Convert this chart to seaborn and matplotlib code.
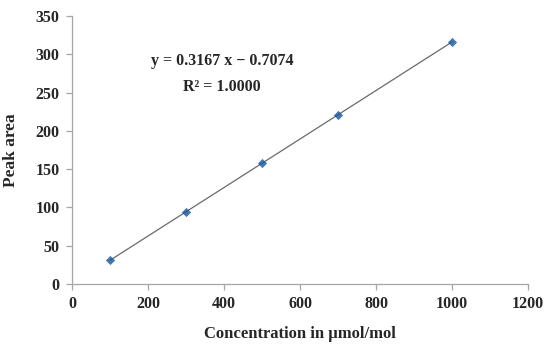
import numpy as np
import pandas as pd
import matplotlib
matplotlib.use("Agg")
import matplotlib.pyplot as plt
import seaborn as sns

# Calibration data
concentration = [100, 300, 500, 700, 1000]
peak_area = [31, 94, 158, 221, 316]
equation_text = "y = 0.3167 x \u2212 0.7074"
r2_text = "R\u00b2 = 1.0000"

df = pd.DataFrame({"Concentration": concentration, "Peak area": peak_area})

sns.set_style("white")
plt.rcParams['font.family'] = ['Liberation Serif', 'DejaVu Serif']
plt.rcParams['font.weight'] = 'bold'

fig = plt.figure(figsize=(5.5, 3.48), dpi=100)
ax = fig.add_axes([0.131, 0.184, 0.829, 0.770])

# Trendline over data range
sns.regplot(data=df, x="Concentration", y="Peak area", ci=None, truncate=True, marker="D",
            scatter_kws={"s": 22, "color": "#14569F", "zorder": 3, "linewidths": 0},
            line_kws={"color": "#6A6A6A", "linewidth": 0.9}, ax=ax)

ax.set_xlim(0, 1200)
ax.set_ylim(0, 350)
ax.set_xticks(range(0, 1201, 200))
ax.set_yticks(range(0, 351, 50))

for side in ["top", "right"]:
    ax.spines[side].set_visible(False)
for side in ["left", "bottom"]:
    ax.spines[side].set_color("#A6A6A6")
    ax.spines[side].set_linewidth(0.9)

ax.tick_params(axis="both", direction="out", length=4, width=0.9, color="#A6A6A6",
               labelsize=11.5, pad=5, bottom=True, left=True)
for lbl in ax.get_xticklabels() + ax.get_yticklabels():
    lbl.set_fontweight("bold")

ax.set_xlabel("Concentration in \u00b5mol/mol", fontsize=12, fontweight="bold", labelpad=10)
ax.set_ylabel("Peak area", fontsize=12.5, fontweight="bold", labelpad=12)

ax.text(395, 291, equation_text, ha="center", va="center", fontsize=11.5, fontweight="bold")
ax.text(393, 257, r2_text, ha="center", va="center", fontsize=11.5, fontweight="bold")

plt.savefig("out.png", dpi=100)
